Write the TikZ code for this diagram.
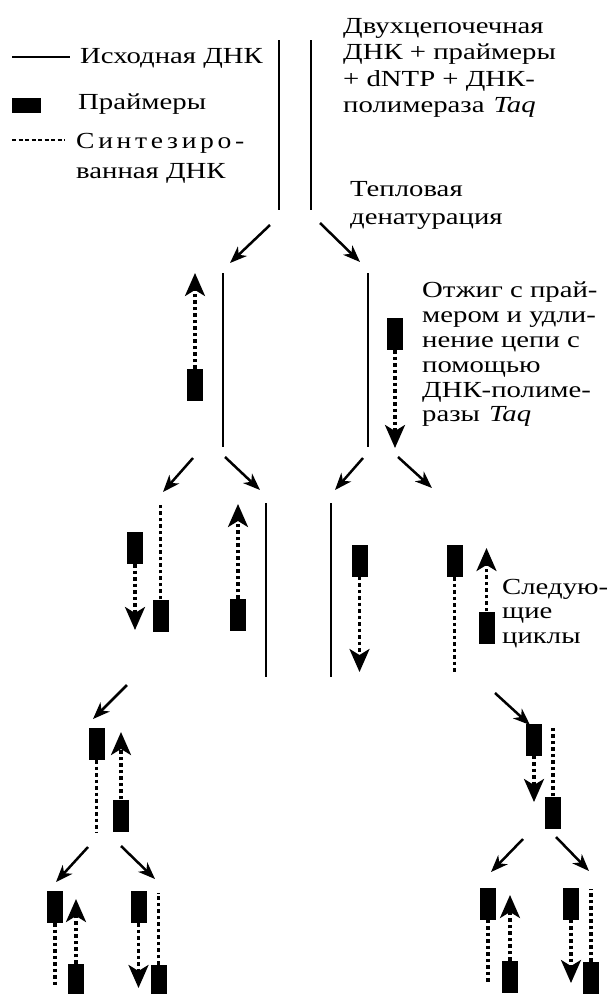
\documentclass[tikz,border=0pt]{standalone}
\usepackage{fontspec}
\setmainfont{Liberation Serif}[FakeStretch=1.25]
\newfontfamily\spacedfont{Liberation Serif}[FakeStretch=1.2,LetterSpace=16]
\usetikzlibrary{arrows.meta}
\tikzset{
  strand/.style={line width=2pt},
  synth/.style={line width=3.2pt,dash pattern=on 3.5pt off 3pt},
  primer/.style={fill=black,draw=none,minimum width=16pt,minimum height=32pt,inner sep=0pt},
  ext/.style={synth,-{Stealth[length=23pt,width=20pt,inset=6pt]}},
  fork/.style={line width=2.5pt,-{Stealth[length=17pt,width=13pt,inset=5pt]}},
  lbl/.style={align=left,inner sep=0pt,anchor=north west},
}
\newcommand{\txt}[1]{\fontsize{23}{#1}\selectfont}
\begin{document}
\begin{tikzpicture}[x=1pt,y=-1pt]
\useasboundingbox (0,0) rectangle (609,994);
% legend
\draw[strand,line width=1.6pt] (12,57) -- (70,57);
\node[lbl,font=\txt{28}] (lorig) at (80,48) {Исходная ДНК};
\node[primer,minimum width=29pt,minimum height=15pt] (lprim) at (26.5,105.5) {};
\node[lbl,font=\txt{28}] (lprimt) at (78,94) {Праймеры};
\draw[line width=1.6pt,dash pattern=on 4pt off 2.5pt] (12,140) -- (65,140);
\node[lbl,font=\txt{30}] (lsyn) at (76,133) {{\spacedfont Синтезиро-}\\ванная ДНК};
% texts
\node[lbl,font=\txt{26.5}] (mix) at (343,18) {Двухцепочечная\\ДНК + праймеры\\+ dNTP + ДНК-\\полимераза\hspace{9pt}\textit{Taq}};
\node[lbl,font=\txt{28}] (heat) at (350,181) {Тепловая\\денатурация};
\node[lbl,font=\txt{24.8}] (anneal) at (422,282) {Отжиг с прай-\\мером и удли-\\нение цепи с\\помощью\\ДНК-полиме-\\разы\hspace{9pt}\textit{Taq}};
\node[lbl,font=\txt{24.5}] (next) at (502,579) {Следую-\\щие\\циклы};
% original strands
\foreach \x/\ya/\yb in {279/40/210,311/40/210,223/273/447,368/273/447,266/503/677,331/503/677}
  \draw[strand] (\x,\ya) -- (\x,\yb);
% primers with extension
\foreach \n/\x/\y/\side/\ty in {1/195/385/north/273,2/395/334/south/448,3/135/548/south/630,
    4/238/615/north/504,5/359.5/560.5/south/672,6/486.5/627.5/north/548,7/121/815.5/north/732,
    8/534/739.5/south/802,9/76/980/north/899,10/138.5/907/south/988,11/510/977/north/895,
    12/571/903.5/south/983}{
  \node[primer] (p\n) at (\x,\y) {};
  \coordinate (t\n) at (\x,\ty);
  \draw[ext] (p\n.\side) -- (t\n);
}
% earlier synthesized strands
\foreach \n/\x/\y/\side/\ty in {1/160.5/615.5/north/504,2/454.5/561/south/672,3/96.5/744/south/832,
    4/553/812.5/north/726,5/55/907/south/987,6/158.5/981/north/893,7/488/903.5/south/982,
    8/591/978/north/889}{
  \node[primer] (q\n) at (\x,\y) {};
  \coordinate (u\n) at (\x,\ty);
  \draw[synth] (q\n.\side) -- (u\n);
}
% step arrows
\foreach \xa/\ya/\xb/\yb [count=\k] in {270/225/230/263,320/223/360/262,193/458/163/492,
    225/457/260/490,363/458/335/490,398/457/432/488,127/685/93/719,495/693/530/725,
    88/847/56/882,121/846/155/879,523/839/491/872,556/837/589/871}{
  \coordinate (s\k) at (\xa,\ya);
  \coordinate (e\k) at (\xb,\yb);
  \draw[fork] (s\k) -- (e\k);
}
\end{tikzpicture}
\end{document}
